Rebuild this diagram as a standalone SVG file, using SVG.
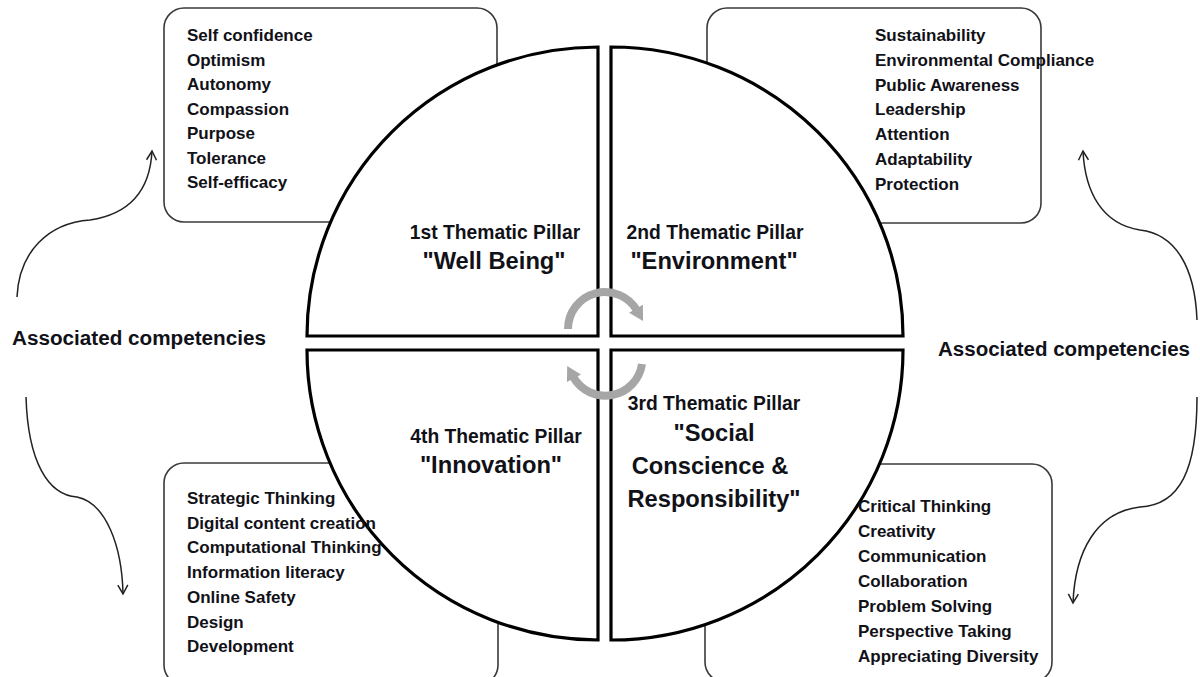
<svg xmlns="http://www.w3.org/2000/svg" width="1200" height="677" viewBox="0 0 1200 677">
  <style>
    .box { fill: #ffffff; stroke: #3a3a3a; stroke-width: 1.6; }
    .quad { fill: #ffffff; stroke: #000000; stroke-width: 3.2; stroke-linejoin: miter; }
    .item { font-family: "Liberation Sans", Arial, sans-serif; font-weight: bold; font-size: 17px; fill: #111118; }
    .pillar { font-family: "Liberation Sans", Arial, sans-serif; font-weight: bold; font-size: 19.3px; fill: #111118; text-anchor: middle; }
    .name { font-family: "Liberation Sans", Arial, sans-serif; font-weight: bold; font-size: 23.7px; fill: #111118; text-anchor: middle; }
    .assoc { font-family: "Liberation Sans", Arial, sans-serif; font-weight: bold; font-size: 19.5px; fill: #111118; }
    .curve { fill: none; stroke: #222222; stroke-width: 1.5; }
    .cycle { fill: none; stroke: #a6a6a6; stroke-width: 8; }
  </style>
  <defs>
    <marker id="open-head" viewBox="0 0 12 12" refX="10" refY="6" markerWidth="12" markerHeight="12" markerUnits="userSpaceOnUse" orient="auto">
      <path d="M1,1 L10,6 L1,11" fill="none" stroke="#222222" stroke-width="1.5"/>
    </marker>
    <marker id="grey-head" viewBox="0 0 20 20" refX="4" refY="10" markerWidth="20" markerHeight="20" markerUnits="userSpaceOnUse" orient="auto">
      <path d="M2,2 L16,10 L2,18 Z" fill="#a6a6a6"/>
    </marker>
  </defs>

  <!-- competency boxes (behind the pillar circle) -->
  <g id="box-wellbeing"><rect class="box" x="164" y="8" width="333" height="214" rx="20"/></g>
  <g id="box-environment"><rect class="box" x="707" y="8" width="334" height="215" rx="20"/></g>
  <g id="box-innovation"><rect class="box" x="164" y="463" width="334" height="222" rx="20"/></g>
  <g id="box-social"><rect class="box" x="705" y="464" width="347" height="218" rx="20"/></g>

  <!-- four quarter pieces of the pillar circle -->
  <g id="pillar-1">
    <path class="quad" d="M598,336 L307,336 A291,289 0 0 1 598,47 Z"/>
    <text class="pillar" x="495" y="239">1st Thematic Pillar</text>
    <text class="name" x="494" y="269">"Well Being"</text>
  </g>
  <g id="pillar-2">
    <path class="quad" d="M611,336 L611,47 A292,289 0 0 1 903,336 Z"/>
    <text class="pillar" x="715" y="239">2nd Thematic Pillar</text>
    <text class="name" x="714" y="269">"Environment"</text>
  </g>
  <g id="pillar-3">
    <path class="quad" d="M611,350 L903,350 A292,290 0 0 1 611,640 Z"/>
    <text class="pillar" x="714" y="410">3rd Thematic Pillar</text>
    <text class="name" x="714" y="441">"Social</text>
    <text class="name" x="710" y="474">Conscience &amp;</text>
    <text class="name" x="714" y="507">Responsibility"</text>
  </g>
  <g id="pillar-4">
    <path class="quad" d="M598,350 L598,640 A291,290 0 0 1 307,350 Z"/>
    <text class="pillar" x="496" y="443">4th Thematic Pillar</text>
    <text class="name" x="491" y="473">"Innovation"</text>
  </g>

  <!-- competency lists -->
  <g id="list-wellbeing" class="item">
    <text x="187" y="41">Self confidence</text>
    <text x="187" y="65.5">Optimism</text>
    <text x="187" y="90">Autonomy</text>
    <text x="187" y="114.5">Compassion</text>
    <text x="187" y="139">Purpose</text>
    <text x="187" y="163.5">Tolerance</text>
    <text x="187" y="188">Self-efficacy</text>
  </g>
  <g id="list-environment" class="item">
    <text x="875" y="41">Sustainability</text>
    <text x="875" y="65.8">Environmental Compliance</text>
    <text x="875" y="90.6">Public Awareness</text>
    <text x="875" y="115.4">Leadership</text>
    <text x="875" y="140.2">Attention</text>
    <text x="875" y="165">Adaptability</text>
    <text x="875" y="189.8">Protection</text>
  </g>
  <g id="list-innovation" class="item">
    <text x="187" y="504">Strategic Thinking</text>
    <text x="187" y="528.7">Digital  content creation</text>
    <text x="187" y="553.4">Computational Thinking</text>
    <text x="187" y="578.1">Information literacy</text>
    <text x="187" y="602.8">Online Safety</text>
    <text x="187" y="627.5">Design</text>
    <text x="187" y="652.2">Development</text>
  </g>
  <g id="list-social" class="item">
    <text x="858" y="512">Critical  Thinking</text>
    <text x="858" y="537">Creativity</text>
    <text x="858" y="562">Communication</text>
    <text x="858" y="587">Collaboration</text>
    <text x="858" y="612">Problem  Solving</text>
    <text x="858" y="637">Perspective Taking</text>
    <text x="858" y="662">Appreciating Diversity</text>
  </g>

  <!-- side labels -->
  <g id="label-left"><text class="assoc" x="12" y="345" textLength="254" lengthAdjust="spacingAndGlyphs">Associated competencies</text></g>
  <g id="label-right"><text class="assoc" x="938" y="356" textLength="252" lengthAdjust="spacingAndGlyphs">Associated competencies</text></g>

  <!-- connectors -->
  <g id="connectors">
    <path class="curve" marker-end="url(#open-head)" d="M17,297 C19,252 48,223 90,220 C130,214 150,190 152,151"/>
    <path class="curve" marker-end="url(#open-head)" d="M26,397 C28,462 48,495 77,497 C106,503 122,546 123,594"/>
    <path class="curve" marker-end="url(#open-head)" d="M1197,320 C1195,268 1176,234 1140,230 C1102,224 1085,192 1083,151"/>
    <path class="curve" marker-end="url(#open-head)" d="M1197,397 C1197,470 1180,505 1140,507 C1096,512 1075,552 1073,603"/>
    <path class="cycle" marker-end="url(#grey-head)" d="M568,329 A37,37 0 0 1 637,310.5"/>
    <path class="cycle" marker-end="url(#grey-head)" d="M642,364 A37,37 0 0 1 573,376.5"/>
  </g>
</svg>
